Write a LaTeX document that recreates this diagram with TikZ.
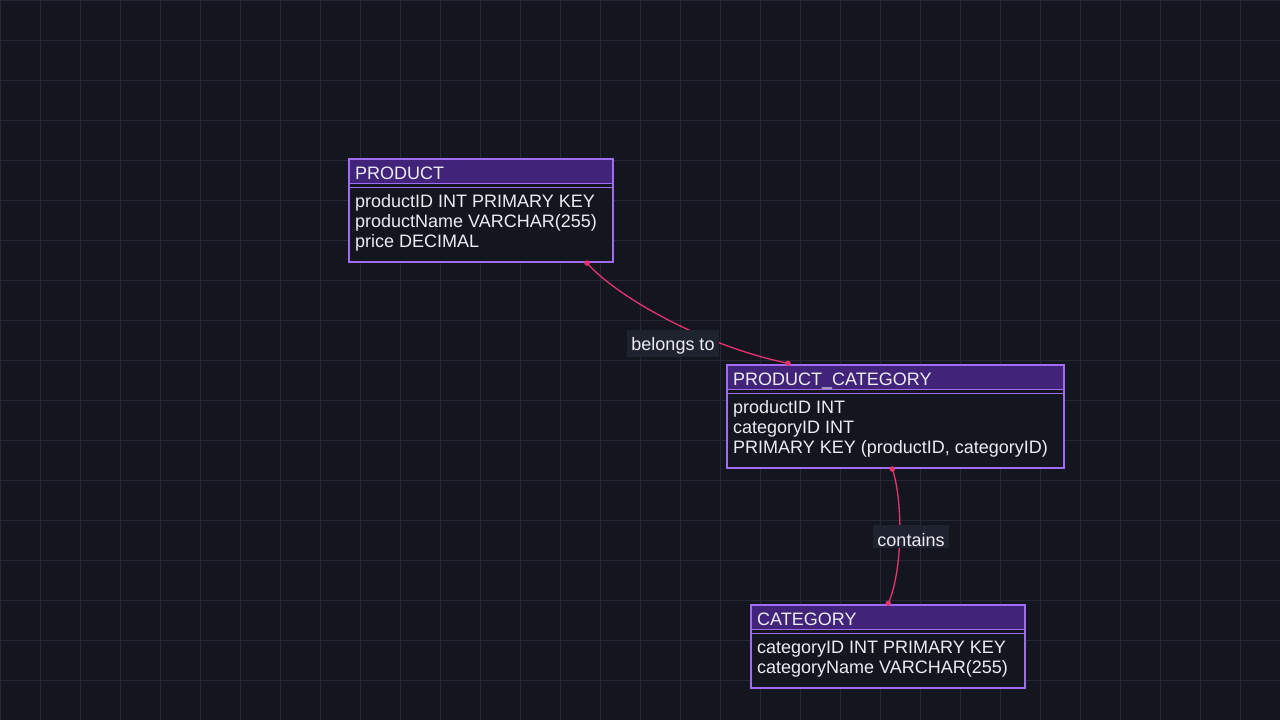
\documentclass[tikz,border=0pt]{standalone}
\usepackage{fontspec}
\setmainfont{Liberation Sans}
\definecolor{bgc}{HTML}{13161F}
\definecolor{gridc}{HTML}{252837}
\definecolor{boxborder}{HTML}{A06CF2}
\definecolor{headfill}{HTML}{41237A}
\definecolor{txtc}{HTML}{ECECF2}
\definecolor{edgec}{HTML}{E8336F}
\definecolor{lblfill}{HTML}{1F2330}
\begin{document}
\begin{tikzpicture}[x=1pt,y=-1pt,
  entity/.style={fill=bgc,rectangle,inner sep=0pt,outer sep=0pt,anchor=north west},
  frame/.style={draw=boxborder,line width=2pt},
  sepline/.style={draw=boxborder,line width=1.4pt},
  ttl/.style={anchor=base west,inner sep=0pt,text=txtc,font=\fontsize{18}{20}\selectfont},
  row/.style={anchor=base west,inner sep=0pt,text=txtc,font=\fontsize{18}{20}\selectfont},
  rel/.style={draw=edgec,line width=1.3pt},
  dot/.style={circle,fill=edgec,inner sep=0pt,minimum size=5.5pt},
  lbl/.style={fill=lblfill,text=txtc,inner xsep=4.5pt,inner ysep=0pt,font=\fontsize{18}{20}\selectfont}]
\useasboundingbox (0,0) rectangle (1280,720);
\fill[bgc] (0,0) rectangle (1280,720);
\foreach \i in {0,40,...,1240} \draw[gridc,line width=1pt] (\i,0) -- (\i,720);
\foreach \j in {0,40,...,720} \draw[gridc,line width=1pt] (0,\j) -- (1280,\j);

% PRODUCT
\node[entity,minimum width=264pt,minimum height=103pt] (product) at (348.5,158.5) {};
\fill[headfill] (348.5,158.5) rectangle (612.5,183.3);
\draw[sepline] (348,183.3) -- (613,183.3);
\draw[sepline] (348,187.3) -- (613,187.3);
\draw[frame] (product.north west) rectangle (product.south east);
\node[ttl] (productT) at (355,179.4) {PRODUCT};
\node[row] (p1) at (355,207.8) {productID INT PRIMARY KEY};
\node[row] (p2) at (355,227.8) {productName VARCHAR(255)};
\node[row] (p3) at (355,247.8) {price DECIMAL};

% PRODUCT_CATEGORY
\node[entity,minimum width=337pt,minimum height=103pt] (pc) at (726.5,364.5) {};
\fill[headfill] (726.5,364.5) rectangle (1063.5,389.3);
\draw[sepline] (726,389.3) -- (1064,389.3);
\draw[sepline] (726,393.3) -- (1064,393.3);
\draw[frame] (pc.north west) rectangle (pc.south east);
\node[ttl] (pcT) at (733,385.6) {PRODUCT\_CATEGORY};
\node[row] (pc1) at (733,413.8) {productID INT};
\node[row] (pc2) at (733,433.8) {categoryID INT};
\node[row] (pc3) at (733,453.8) {PRIMARY KEY (productID, categoryID)};

% CATEGORY
\node[entity,minimum width=274pt,minimum height=83pt] (category) at (750.5,604.5) {};
\fill[headfill] (750.5,604.5) rectangle (1024.5,629.3);
\draw[sepline] (750,629.3) -- (1025,629.3);
\draw[sepline] (750,633.3) -- (1025,633.3);
\draw[frame] (category.north west) rectangle (category.south east);
\node[ttl] (catT) at (757,625.6) {CATEGORY};
\node[row] (c1) at (757,653.8) {categoryID INT PRIMARY KEY};
\node[row] (c2) at (757,673.8) {categoryName VARCHAR(255)};

% connector end points
\coordinate (e1a) at (587,263);
\coordinate (e1b) at (788,363.3);
\coordinate (e2a) at (892.3,469);
\coordinate (e2b) at (888.3,603.3);

\draw[rel] (e1a) .. controls (615,295) and (700,345) .. (e1b);
\draw[rel] (e2a) .. controls (903,500) and (903,570) .. (e2b);
\node[dot] at (e1a) {};
\node[dot] at (e1b) {};
\node[dot] at (e2a) {};
\node[dot] at (e2b) {};

\node[lbl,text height=20pt,text depth=6.7pt] (l1) at (673,343.35) {belongs to};
\node[lbl,text height=21pt,text depth=1.7pt] (l2) at (911,536.35) {contains};
\end{tikzpicture}
\end{document}
